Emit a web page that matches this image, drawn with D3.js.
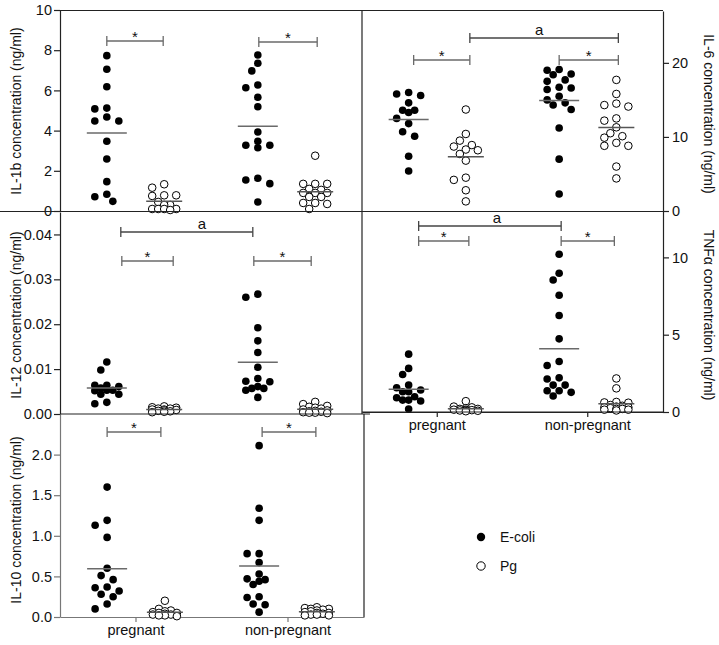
<!DOCTYPE html>
<html>
<head>
<meta charset="utf-8">
<script src="https://cdn.jsdelivr.net/npm/d3@7"></script>
<style>
body{margin:0;background:#fff;}
svg{display:block;font-family:"Liberation Sans",Arial,sans-serif;}
</style>
</head>
<body>
<svg id="chart" width="719" height="645"></svg>
<script>
// ---------- data ----------
const groups = ["pregnant", "non-pregnant"];
const seriesNames = ["E-coli", "Pg"];

const il1b_preg_ecoli = [7.73,7.05,6.18,5.12,5.08,4.68,4.48,4.48,3.47,2.59,1.46,0.83,0.71,0.48];
const il1b_preg_pg    = [1.33,1.16,0.78,0.78,0.75,0.45,0.3,0.3,0.1,0.1,0.1,0.1,0.05];
const il1b_np_ecoli   = [7.76,7.35,6.97,6.27,6.13,5.66,5.19,3.93,3.47,3.27,3.27,3.15,1.63,1.54,1.36,0.45];
const il1b_np_pg      = [2.75,1.35,1.35,1.35,1.1,1.05,0.9,0.9,0.9,0.7,0.7,0.4,0.4,0.35,0.1];

const il6_preg_ecoli = [16.0,15.8,15.6,14.6,13.6,13.6,13.3,12.5,11.8,10.7,10.1,7.4,5.4];
const il6_preg_pg    = [13.7,10.4,9.5,8.9,8.7,8.3,8.2,7.7,6.8,4.5,4.2,2.8,1.3];
const il6_np_ecoli   = [19.1,19.0,18.5,18.4,17.7,17.5,16.7,16.6,16.4,15.5,15.0,14.6,14.3,13.7,11.2,7.0,2.3];
const il6_np_pg      = [17.7,15.8,14.5,14.3,14.1,12.5,12.2,11.3,10.5,10.1,9.9,9.2,8.8,8.8,6.0,4.4];

const il12_preg_ecoli = [0.0116,0.0098,0.0064,0.0064,0.0061,0.0058,0.0053,0.0053,0.0052,0.0044,0.0044,0.0026,0.0023];
const il12_preg_pg    = [0.0017,0.0015,0.0014,0.0012,0.0012,0.001,0.001,0.0009,0.0008,0.0007,0.0006,0.0005,0.0004];
const il12_np_ecoli   = [0.0267,0.026,0.0192,0.0163,0.0137,0.0104,0.0079,0.0073,0.0072,0.0061,0.0057,0.0057,0.0053,0.0037];
const il12_np_pg      = [0.0027,0.0022,0.0018,0.0016,0.0014,0.0012,0.001,0.0008,0.0007,0.0006,0.0005,0.0004,0.0003,0.0003,0.0002];

const tnf_preg_ecoli = [3.74,2.82,2.43,1.74,1.57,1.42,1.31,1.31,0.99,0.92,0.77,0.77,0.71,0.19];
const tnf_preg_pg    = [0.7,0.35,0.3,0.25,0.2,0.2,0.15,0.15,0.12,0.1,0.1,0.08,0.05];
const tnf_np_ecoli   = [10.2,8.97,8.54,7.55,6.24,4.73,3.27,3.01,2.21,2.13,1.74,1.74,1.37,1.37,1.27,1.03];
const tnf_np_pg      = [2.17,1.53,0.65,0.62,0.6,0.45,0.4,0.35,0.3,0.3,0.25,0.2,0.2,0.15,0.15,0.1];

const il10_preg_ecoli = [1.6,1.19,1.13,0.98,0.6,0.51,0.46,0.37,0.36,0.32,0.28,0.25,0.16,0.1];
const il10_preg_pg    = [0.2,0.1,0.08,0.07,0.06,0.05,0.05,0.04,0.03,0.03,0.02,0.02,0.01];
const il10_np_ecoli   = [2.11,1.34,1.19,0.78,0.78,0.67,0.53,0.47,0.46,0.44,0.4,0.25,0.24,0.16,0.15,0.06];
const il10_np_pg      = [0.12,0.11,0.1,0.1,0.09,0.08,0.07,0.06,0.05,0.05,0.04,0.03,0.03,0.02,0.02];

const il1bTicks = [0,2,4,6,8,10];
const il6Ticks  = [0,10,20];
const il12Ticks = [0,0.01,0.02,0.03,0.04];
const tnfTicks  = [0,5,10];
const il10Ticks = [0,0.5,1.0,1.5,2.0];

const il1bTitle = "IL-1b concentration (ng/ml)";
const il6Title  = "IL-6 concentration (ng/ml)";
const il12Title = "IL-12 concentration (ng/ml)";
const tnfTitle  = "TNFα concentration (ng/ml)";
const il10Title = "IL-10 concentration (ng/ml)";

// ---------- drawing ----------
const svg = d3.select("#chart");
const R = 3.8;
const FRAME = "#222";
const GREY = "#6a6a6a";
const FONT = '"Liberation Sans",Arial,sans-serif';

const panels = [
  {title: il1bTitle, side: "left", data: [il1b_preg_ecoli, il1b_preg_pg, il1b_np_ecoli, il1b_np_pg],
   x0: 60, x1: 362, top: 10, bottom: 211, domain: [0,10], ticks: il1bTicks, fmt: d3.format("d"), titleY: 111,
   brackets: [
     {a:[0,0,0], b:[0,1,-1], y:41, label:"*"},
     {a:[1,0,1], b:[1,1,2], y:42, label:"*"}]},
  {title: il6Title, side: "right", data: [il6_preg_ecoli, il6_preg_pg, il6_np_ecoli, il6_np_pg],
   x0: 362, x1: 663, top: 11, bottom: 211, domain: [0,27], ticks: il6Ticks, fmt: d3.format("d"), titleY: 114,
   brackets: [
     {a:[0,0,5], b:[0,1,4], y:60, label:"*"},
     {a:[0,1,4], b:[1,1,2], y:38, label:"a", lx:-5},
     {a:[1,0,0], b:[1,1,2], y:60, label:"*"}]},
  {title: il12Title, side: "left", data: [il12_preg_ecoli, il12_preg_pg, il12_np_ecoli, il12_np_pg],
   x0: 60, x1: 362, top: 212, bottom: 414, domain: [0,0.045], ticks: il12Ticks, fmt: d3.format(".2f"), titleY: 315,
   brackets: [
     {a:[0,0,14], b:[1,0,-5], y:232, label:"a", lx:15},
     {a:[0,0,15], b:[0,1,9], y:261, label:"*"},
     {a:[1,0,-4], b:[1,1,-4], y:261, label:"*"}]},
  {title: tnfTitle, side: "right", data: [tnf_preg_ecoli, tnf_preg_pg, tnf_np_ecoli, tnf_np_pg],
   x0: 362, x1: 663, top: 211, bottom: 412, domain: [0,13], ticks: tnfTicks, fmt: d3.format("d"), titleY: 315,
   xLabels: true,
   brackets: [
     {a:[0,0,10], b:[1,0,2], y:226, label:"a", lx:7},
     {a:[0,0,10], b:[0,1,3], y:241, label:"*"},
     {a:[1,0,2], b:[1,1,-2], y:241, label:"*"}]},
  {title: il10Title, side: "left", data: [il10_preg_ecoli, il10_preg_pg, il10_np_ecoli, il10_np_pg],
   x0: 60, x1: 364, top: 414, bottom: 617, domain: [0,2.5], ticks: il10Ticks, fmt: d3.format(".1f"), titleY: 520,
   xLabels: true, axisColor: "#777",
   brackets: [
     {a:[0,0,0], b:[0,1,-4], y:432, label:"*"},
     {a:[1,0,3], b:[1,1,-1], y:432, label:"*"}]}
];

function swarm(values, cx, y) {
  const pts = values.map(v => ({v, y: y(v)})).sort((a, b) => a.y - b.y);
  const placed = [];
  const offs = [0,-1,1,-2,2].map(k => k * 6);
  pts.forEach(p => {
    let best = null, bestD = -1;
    for (const o of offs) {
      const x = cx + o;
      const d = placed.length ? d3.min(placed, q => Math.hypot(q.x - x, q.y - p.y)) : Infinity;
      if (d >= 2 * R + 0.6) { best = x; bestD = d; break; }
      if (d > bestD + 1) { bestD = d; best = x; }
    }
    p.x = best;
    placed.push(p);
  });
  return placed;
}

panels.forEach(P => {
  const g = svg.append("g");
  const y = d3.scaleLinear().domain(P.domain).range([P.bottom, P.top]);
  const xg = d3.scaleBand().domain(groups).range([P.x0, P.x1]);
  const bw = xg.bandwidth();
  const xs = d3.scalePoint().domain(seriesNames).range([bw * 0.31, bw * 0.69]);
  const cx = (gi, si) => xg(groups[gi]) + xs(seriesNames[si]);

  // y axis
  const ax = P.side === "left" ? d3.axisLeft(y) : d3.axisRight(y);
  ax.tickValues(P.ticks).tickFormat(P.fmt).tickSize(6).tickPadding(P.side === "left" ? 2 : 3).tickSizeOuter(0);
  const axG = g.append("g").attr("transform", `translate(${P.side === "left" ? P.x0 : P.x1},0)`).call(ax);
  axG.selectAll("text").attr("font-size", 14.5).attr("fill", "#111").attr("font-family", FONT);
  axG.selectAll("path,line").attr("stroke", P.axisColor || FRAME).attr("stroke-width", 1.2);

  // x axis
  if (P.xLabels) {
    const xa = d3.axisBottom(xg).tickSize(5).tickPadding(3).tickSizeOuter(0);
    const xG = g.append("g").attr("transform", `translate(0,${P.bottom})`).call(xa);
    xG.selectAll("path,line").attr("stroke", P.axisColor || FRAME).attr("stroke-width", 1.2);
    xG.selectAll("text").attr("font-size", 14.5).attr("fill", "#111").attr("font-family", FONT);
  }

  // title
  if (P.side === "left") {
    g.append("text").attr("transform", `translate(21,${P.titleY}) rotate(-90)`)
      .attr("text-anchor", "middle").attr("font-size", 14).attr("fill", "#111").text(P.title);
  } else {
    g.append("text").attr("transform", `translate(704,${P.titleY}) rotate(90)`)
      .attr("text-anchor", "middle").attr("font-size", 14).attr("fill", "#111").text(P.title);
  }

  // points
  P.data.forEach((vals, k) => {
    const gi = Math.floor(k / 2), si = k % 2;
    const c = cx(gi, si);
    const pts = swarm(vals, c, y);
    g.append("g").selectAll("circle").data(pts).join("circle")
      .attr("cx", d => d.x).attr("cy", d => d.y).attr("r", R)
      .attr("fill", si === 0 ? "#000" : "#fff")
      .attr("stroke", "#000").attr("stroke-width", si === 0 ? 0 : 1);
    const m = d3.mean(vals);
    const hw = si === 0 ? 20 : 18;
    g.append("line").attr("x1", c - hw).attr("x2", c + hw).attr("y1", y(m)).attr("y2", y(m))
      .attr("stroke", si === 0 ? GREY : "#555").attr("stroke-width", 1.5);
  });

  // brackets
  P.brackets.forEach(b => {
    const xa = cx(b.a[0], b.a[1]) + b.a[2];
    const xb = cx(b.b[0], b.b[1]) + b.b[2];
    const bg = g.append("g").attr("stroke", b.label === "a" ? "#444" : GREY).attr("stroke-width", 1.3);
    bg.append("line").attr("x1", xa).attr("x2", xb).attr("y1", b.y).attr("y2", b.y);
    bg.append("line").attr("x1", xa).attr("x2", xa).attr("y1", b.y - 5).attr("y2", b.y + 5);
    bg.append("line").attr("x1", xb).attr("x2", xb).attr("y1", b.y - 5).attr("y2", b.y + 5);
    if (b.label === "*") {
      g.append("text").attr("x", (xa + xb) / 2).attr("y", b.y + 1).attr("text-anchor", "middle")
        .attr("font-size", 15).attr("fill", "#111").text("*");
    } else {
      g.append("text").attr("x", (xa + xb) / 2 + (b.lx || 0)).attr("y", b.y - 3).attr("text-anchor", "middle")
        .attr("font-size", 15).attr("fill", "#111").text(b.label);
    }
  });
});

// frame lines
const frame = [
  [60, 10.5, 663, 10.5],
  [362, 10, 362, 414],
  [0, 211.5, 663, 211.5],
  [60, 414, 370, 414],
  [362, 412, 663, 412],
  [364, 414, 364, 617]
];
svg.append("g").selectAll("line").data(frame).join("line")
  .attr("x1", d => d[0]).attr("y1", d => d[1]).attr("x2", d => d[2]).attr("y2", d => d[3])
  .attr("stroke", FRAME).attr("stroke-width", 1.2);

// legend
const leg = svg.append("g");
seriesNames.forEach((s, i) => {
  const yy = 537 + i * 29;
  leg.append("circle").attr("cx", 481).attr("cy", yy).attr("r", R + 0.4)
    .attr("fill", i === 0 ? "#000" : "#fff").attr("stroke", "#000").attr("stroke-width", i === 0 ? 0 : 1);
  leg.append("text").attr("x", 500).attr("y", yy + 5).attr("font-size", 14).attr("fill", "#111").text(s);
});
</script>
</body>
</html>
